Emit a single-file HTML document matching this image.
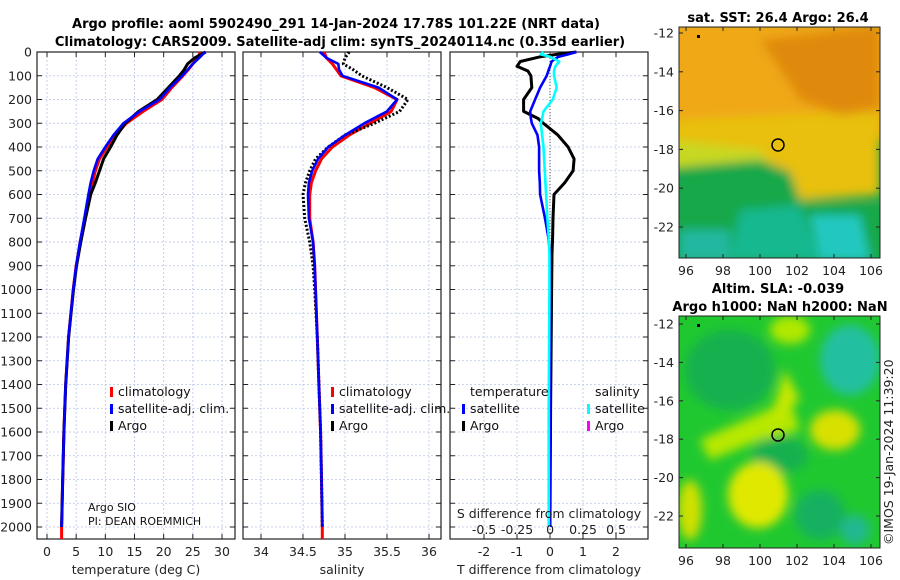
<!DOCTYPE html>
<html><head><meta charset="utf-8">
<style>
body{margin:0;background:#fff;}
svg{display:block;font-family:"DejaVu Sans","Liberation Sans",sans-serif;}
.t{font-size:13px;font-weight:bold;}
.tk{font-size:12.5px;fill:#222;}
.lg{font-size:12.5px;fill:#111;}
</style></head>
<body>
<svg id="fig" width="900" height="580" viewBox="0 0 900 580">
<defs>
<filter id="bl" x="-20%" y="-20%" width="140%" height="140%"><feGaussianBlur stdDeviation="5"/></filter>
<clipPath id="c1"><rect x="679" y="27" width="201" height="231"/></clipPath>
<clipPath id="c2"><rect x="679" y="316" width="201" height="232"/></clipPath>
</defs>
<text class="t" x="336" y="28" text-anchor="middle">Argo profile: aoml 5902490_291 14-Jan-2024 17.78S 101.22E (NRT data)</text>
<text class="t" x="340" y="46" text-anchor="middle">Climatology: CARS2009. Satellite-adj clim: synTS_20240114.nc (0.35d earlier)</text>
<g id="plots"></g>

<!-- map 1 -->
<g clip-path="url(#c1)">
<rect x="679" y="27" width="201" height="231" fill="#18a848"/>
<g filter="url(#bl)">
<rect x="670" y="20" width="220" height="120" fill="#f0a818"/>
<path d="M670,120 L880,110 L880,195 L800,200 L760,165 L670,160 Z" fill="#e8c010"/>
<path d="M670,140 L760,150 L770,165 L670,175 Z" fill="#c8d820"/>
<path d="M760,40 L880,25 L880,110 L840,115 L800,100 Z" fill="#e08a10"/>
<path d="M670,168 L760,160 L790,172 L800,200 L880,205 L880,270 L670,270 Z" fill="#18a848"/>
<path d="M740,210 L800,205 L820,260 L730,260 Z" fill="#18b890"/>
<path d="M810,215 L860,215 L870,260 L820,260 Z" fill="#20c8c0"/>
<path d="M680,230 L730,230 L730,260 L680,260 Z" fill="#20b8a0"/>
</g>
<rect x="697" y="35" width="3" height="3" fill="#000"/>
</g>
<rect x="679" y="27" width="201" height="231" fill="none" stroke="#222"/>
<circle cx="778" cy="145" r="6" fill="none" stroke="#000" stroke-width="1.5"/>
<text class="t" x="778" y="22" text-anchor="middle">sat. SST: 26.4 Argo: 26.4</text>

<!-- map 2 -->
<g clip-path="url(#c2)">
<rect x="679" y="316" width="201" height="232" fill="#20c830"/>
<g filter="url(#bl)">
<ellipse cx="730" cy="370" rx="45" ry="40" fill="#18b050"/>
<ellipse cx="850" cy="360" rx="30" ry="35" fill="#20c0a0"/>
<ellipse cx="790" cy="330" rx="20" ry="14" fill="#b0e800"/>
<path d="M700,440 L790,400 L800,430 L760,440 L710,460 Z" fill="#b8e800"/>
<path d="M785,370 L800,400 L770,420 Z" fill="#c8e800"/>
<ellipse cx="780" cy="455" rx="28" ry="18" fill="#18b050"/>
<ellipse cx="835" cy="430" rx="25" ry="20" fill="#d8e000"/>
<ellipse cx="758" cy="495" rx="30" ry="33" fill="#e0e800"/>
<ellipse cx="690" cy="510" rx="12" ry="30" fill="#d0e000"/>
<ellipse cx="820" cy="515" rx="25" ry="25" fill="#18b060"/>
<ellipse cx="855" cy="530" rx="15" ry="15" fill="#20b890"/>
</g>
<rect x="697" y="324" width="3" height="3" fill="#000"/>
</g>
<rect x="679" y="316" width="201" height="232" fill="none" stroke="#222"/>
<circle cx="778" cy="435" r="6" fill="none" stroke="#000" stroke-width="1.5"/>
<text class="t" x="778" y="293" text-anchor="middle">Altim. SLA: -0.039</text>
<text class="t" x="780" y="311" text-anchor="middle">Argo h1000: NaN h2000: NaN</text>
<text x="893" y="545" font-size="12.5" fill="#222" transform="rotate(-90 893 545)">©IMOS 19-Jan-2024 11:39:20</text>
<g id="maps"></g>
</svg>
<script>
// ---- profile data ----
const depths=[0,25,50,75,100,150,200,250,300,350,400,450,500,550,600,700,800,900,1000,1200,1400,1600,1800,2000];
const climT=[26.3,25.8,25.0,24.2,23.3,21.4,19.7,16.5,13.6,11.8,10.3,9.0,8.3,7.8,7.4,6.5,5.7,5.0,4.5,3.7,3.2,2.9,2.7,2.5];
const satT=[27.1,26.1,25.0,24.1,23.2,21.1,19.3,15.9,13.1,11.4,10.0,8.7,8.0,7.5,7.1,6.4,5.65,5.0,4.5,3.7,3.2,2.9,2.7,2.5];
const argoT=[27.2,25.3,24.1,23.5,22.7,20.8,18.9,15.7,13.4,12.0,10.9,9.7,9.0,8.3,7.5,6.6,5.8,5.05,4.55,3.7,3.2,2.9,2.7,2.5];
const climS=[34.75,34.78,34.85,34.9,34.95,35.35,35.62,35.55,35.3,35.05,34.85,34.72,34.65,34.6,34.58,34.58,34.62,34.64,34.65,34.67,34.69,34.71,34.72,34.73];
const satS=[34.70,34.78,34.92,34.93,34.97,35.4,35.62,35.5,35.23,35.0,34.8,34.68,34.61,34.57,34.56,34.57,34.62,34.64,34.65,34.67,34.69,34.71,34.72,34.73];
const argoS=[35.05,35.0,34.98,35.1,35.2,35.5,35.75,35.65,35.35,35.0,34.8,34.65,34.58,34.53,34.5,34.52,34.58,34.62,34.64,34.67,34.69,34.71,34.72,34.73];
const diffDepths=[0,10,20,40,60,80,100,150,200,250,280,300,350,400,450,500,550,600,700,780,850,1000,1500,2000];
const dTsat=[0.8,0.55,0.25,0.05,0.0,-0.05,-0.1,-0.3,-0.45,-0.6,-0.58,-0.55,-0.38,-0.33,-0.33,-0.33,-0.31,-0.3,-0.15,-0.05,0,0,0,0];
const dTargo=[0.8,0.2,-0.3,-0.9,-1.0,-0.67,-0.58,-0.55,-0.8,-0.8,-0.36,-0.2,0.24,0.55,0.73,0.7,0.45,0.12,0.09,0.08,0.06,0.05,0.02,0.0];
const dSsat=[-0.05,-0.07,0.0,0.07,0.04,0.03,0.03,0.05,0.02,-0.05,-0.06,-0.07,-0.06,-0.05,-0.045,-0.04,-0.035,-0.03,-0.02,-0.01,-0.005,-0.005,-0.01,-0.01];
const depthTicks=[0,100,200,300,400,500,600,700,800,900,1000,1100,1200,1300,1400,1500,1600,1700,1800,1900,2000];
const tTicks=[0,5,10,15,20,25,30];
const sTicks=[34,34.5,35,35.5,36];
const dTicks=[-2,-1,0,1,2];
const dsTicks=[-0.5,-0.25,0,0.25,0.5];

const NS='http://www.w3.org/2000/svg';
const plots=document.getElementById('plots');
const TOP=52,BOT=539;
const yD=d=>TOP+d*(527-TOP)/2000;
function mk(tag,at,parent){const e=document.createElementNS(NS,tag);for(const k in at)e.setAttribute(k,at[k]);(parent||plots).appendChild(e);return e;}
const panels=[
 {x0:37,x1:235,dom:[-1.714,32.23],ticks:tTicks,label:'temperature (deg C)',name:'temperature-panel'},
 {x0:243,x1:441,dom:[33.786,36.143],ticks:sTicks,label:'salinity',name:'salinity-panel'},
 {x0:450,x1:648,dom:[-3.03,2.97],ticks:dTicks,label:'T difference from climatology',name:'difference-panel'}
];
function xs(p,v){return p.x0+(v-p.dom[0])/(p.dom[1]-p.dom[0])*(p.x1-p.x0);}
panels.forEach((p,pi)=>{
 const g=mk('g',{});
 
 
 depthTicks.forEach(d=>{
  const l=mk('line',{x1:p.x0,x2:p.x1,y1:yD(d),y2:yD(d),stroke:'#b8c4e8','stroke-dasharray':'2,2','stroke-width':0.8},g);
  
  
  mk('line',{x1:p.x0,x2:p.x0+5,y1:yD(d),y2:yD(d),stroke:'#222'},g);
  mk('line',{x1:p.x1-5,x2:p.x1,y1:yD(d),y2:yD(d),stroke:'#222'},g);
  if(pi===0){const t=mk('text',{x:p.x0-5,y:yD(d)+4.5,'text-anchor':'end',class:'tk'},g);t.textContent=d;
   
   }
 });
 p.ticks.forEach(v=>{
  const x=xs(p,v);
  mk('line',{x1:x,x2:x,y1:TOP,y2:BOT,stroke:'#b8c4e8','stroke-dasharray':'2,2','stroke-width':0.8},g);
  mk('line',{x1:x,x2:x,y1:BOT,y2:BOT-5,stroke:'#222'},g);
  mk('line',{x1:x,x2:x,y1:TOP,y2:TOP+5,stroke:'#222'},g);
  const t=mk('text',{x:x,y:556,'text-anchor':'middle',class:'tk'},g);t.textContent=v;
  
  
 });
 mk('rect',{x:p.x0,y:TOP,width:p.x1-p.x0,height:BOT-TOP,fill:'none',stroke:'#222','stroke-width':1.2},g);
 const xl=mk('text',{x:(p.x0+p.x1)/2,y:574,'text-anchor':'middle',class:'tk','font-size':'13'},g);xl.textContent=p.label;
 
 
});
function line(p,vals,ds,color,w,name,dash,ext){
 let pts=vals.map((v,i)=>xs(p,v).toFixed(1)+','+yD(ds[i]).toFixed(1));
 if(ext)pts.push(xs(p,vals[vals.length-1]).toFixed(1)+','+BOT);
 const a={points:pts.join(' '),fill:'none',stroke:color,'stroke-width':w,'stroke-linejoin':'round'};
 if(dash)a['stroke-dasharray']=dash;
 const e=mk('polyline',a);
 
 
}
const P=panels;
line(P[0],climT,depths,'#f00',3,'climatology-temperature-line',null,true);
line(P[0],argoT,depths,'#000',3,'argo-temperature-line');
line(P[0],satT,depths,'#00f',2.6,'satellite-temperature-line');
line(P[1],climS,depths,'#f00',3,'climatology-salinity-line',null,true);
line(P[1],argoS,depths,'#000',3,'argo-salinity-line','2,2');
line(P[1],satS,depths,'#00f',2.6,'satellite-salinity-line');
const z=mk('line',{x1:xs(P[2],0),x2:xs(P[2],0),y1:TOP,y2:BOT,stroke:'#555','stroke-dasharray':'1,2'});


line(P[2],dTargo,diffDepths,'#000',3,'argo-temperature-difference-line');
line(P[2],dTsat,diffDepths,'#00f',2.6,'satellite-temperature-difference-line');
const Ps={x0:450,x1:648,dom:[-0.758,0.742]};
line(Ps,dSsat,diffDepths,'#0ff',2.6,'satellite-salinity-difference-line');
const st=mk('text',{x:549,y:518,'text-anchor':'middle',class:'tk','font-size':'13'});st.textContent='S difference from climatology';


dsTicks.forEach(v=>{const t=mk('text',{x:xs(Ps,v),y:534,'text-anchor':'middle',class:'tk'});t.textContent=v;
 
 });
function leg(x,y,color,txt,name){
 const r=mk('rect',{x:x,y:y-9,width:3,height:10,fill:color});
 
 
 const t=mk('text',{x:x+8,y:y,class:'lg'});t.textContent=txt;
 
 
}
leg(110,396,'#f00','climatology','legend-climatology');
leg(110,413,'#00f','satellite-adj. clim.','legend-satellite');
leg(110,430,'#000','Argo','legend-argo');
leg(331,396,'#f00','climatology','legend-climatology-s');
leg(331,413,'#00f','satellite-adj. clim.','legend-satellite-s');
leg(331,430,'#000','Argo','legend-argo-s');
const tl=mk('text',{x:470,y:396,class:'lg'});tl.textContent='temperature';


leg(462,413,'#00f','satellite','legend-temperature-satellite');
leg(462,430,'#000','Argo','legend-temperature-argo');
const sl=mk('text',{x:595,y:396,class:'lg'});sl.textContent='salinity';


leg(587,413,'#0ff','satellite','legend-salinity-satellite');
leg(587,430,'#f0f','Argo','legend-salinity-argo');
const a1=mk('text',{x:88,y:511,'font-size':'11',fill:'#111'});a1.textContent='Argo SIO';


const a2=mk('text',{x:88,y:525,'font-size':'11',fill:'#111'});a2.textContent='PI: DEAN ROEMMICH';



const lonTicks=[96,98,100,102,104,106];
const latTicks=[-12,-14,-16,-18,-20,-22];
const maps=document.getElementById('maps');
[{y0:27,y1:258,lat0:33,lat1:227},{y0:316,y1:548,lat0:324,lat1:516}].forEach((m,mi)=>{
 lonTicks.forEach(v=>{const x=686+(v-96)*18.5;
  mk('line',{x1:x,x2:x,y1:m.y1,y2:m.y1-4,stroke:'#222'},maps);
  mk('line',{x1:x,x2:x,y1:m.y0,y2:m.y0+4,stroke:'#222'},maps);
  const t=mk('text',{x:x,y:m.y1+17,'text-anchor':'middle',class:'tk'},maps);t.textContent=v;
  
  });
 latTicks.forEach(v=>{const y=m.lat0+(-12-v)*(m.lat1-m.lat0)/10;
  mk('line',{x1:679,x2:683,y1:y,y2:y,stroke:'#222'},maps);
  mk('line',{x1:880,x2:876,y1:y,y2:y,stroke:'#222'},maps);
  const t=mk('text',{x:674,y:y+4.5,'text-anchor':'end',class:'tk'},maps);t.textContent=v;
  
  });
});
</script>
</body></html>
